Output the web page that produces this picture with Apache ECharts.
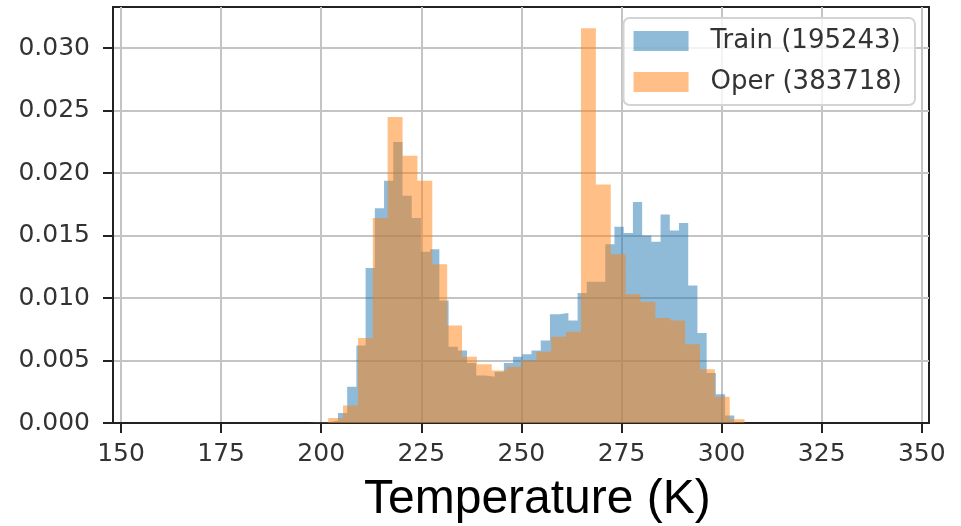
<!DOCTYPE html>
<html>
<head>
<meta charset="utf-8">
<script src="https://cdn.jsdelivr.net/npm/echarts@6/dist/echarts.min.js"></script>
<style>
  html, body { margin: 0; background: #fff; }
  #chart { width: 961px; height: 526px; }
</style>
</head>
<body>
<div id="chart"></div>
<script>
// histogram bins: first edge, bin width, density per bin
const TRAIN_START = 197.28;
const TRAIN_WIDTH = 2.302;
const trainDensity = [
  0.00002, 0.00005, 0.0002, 0.0008, 0.0029, 0.0062, 0.0124, 0.0172, 0.0194, 0.0225,
  0.0182, 0.0164, 0.0137, 0.0139, 0.0098, 0.0061, 0.0058, 0.0048, 0.0038, 0.0037,
  0.0041, 0.0048, 0.0053, 0.0055, 0.0058, 0.0066, 0.0087, 0.0088, 0.0082, 0.0104,
  0.0113, 0.0113, 0.0143, 0.0157, 0.0152, 0.0177, 0.0150, 0.0145, 0.0167, 0.0154,
  0.0160, 0.0110, 0.0072, 0.0040, 0.0023, 0.0006
];

const OPER_START = 198.03;
const OPER_WIDTH = 3.714;
const operDensity = [
  0.00003, 0.0004, 0.0014, 0.0068, 0.0164, 0.0245, 0.0214, 0.0194, 0.0127, 0.0078,
  0.0053, 0.0047, 0.0042, 0.0045, 0.0050, 0.0057, 0.0069, 0.0073, 0.0316, 0.0191,
  0.0135, 0.0103, 0.0097, 0.0084, 0.0082, 0.0063, 0.0043, 0.0021, 0.0003
];

const seriesNames = ['Train (195243)', 'Oper (383718)'];
const xTicks = [150, 175, 200, 225, 250, 275, 300, 325, 350];
const yTicks = [0, 0.005, 0.010, 0.015, 0.020, 0.025, 0.030];

const BLUE = 'rgba(31,119,180,0.5)';
const ORANGE = 'rgba(255,127,14,0.5)';

// step outline: one point per bin edge, last edge drops back to 0
function stepPoints(start, width, vals) {
  const pts = vals.map((v, i) => [start + i * width, v]);
  pts.push([start + vals.length * width, 0]);
  return pts;
}

function histSeries(name, color, pts) {
  return {
    name: name,
    type: 'line',
    step: 'end',
    data: pts,
    showSymbol: false,
    silent: true,
    color: color,
    itemStyle: { color: color },
    lineStyle: { width: 0 },
    areaStyle: { color: color, opacity: 1 }
  };
}

const chart = echarts.init(document.getElementById('chart'));
const labelFont = { fontFamily: 'DejaVu Sans', fontSize: 25, color: '#333' };

chart.setOption({
  animation: false,
  grid: {
    left: 113, right: 32, top: 7, bottom: 103,
    show: true, borderColor: '#222', borderWidth: 2, backgroundColor: '#fff'
  },
  legend: {
    right: 46, top: 18,
    orient: 'vertical',
    icon: 'rect',
    itemWidth: 55, itemHeight: 20, itemGap: 15,
    padding: [10, 13, 10, 10],
    backgroundColor: 'rgba(255,255,255,0.8)',
    borderColor: '#d4d4d4', borderWidth: 2, borderRadius: 6,
    textStyle: {
      fontFamily: 'DejaVu Sans', fontSize: 26, color: '#333',
      lineHeight: 20, padding: [0, 0, 0, 17]
    },
    data: seriesNames
  },
  xAxis: {
    type: 'value', min: 148.0, max: 351.8,
    axisLine: { show: true, lineStyle: { color: '#222', width: 2 } },
    axisTick: { show: true, length: 10, customValues: xTicks, lineStyle: { color: '#222', width: 2 } },
    axisLabel: Object.assign({ margin: 19, customValues: xTicks }, labelFont),
    splitLine: { show: true, lineStyle: { color: '#c4c4c4', width: 2 } }
  },
  yAxis: {
    type: 'value', min: 0, max: 0.0333,
    axisLine: { show: true, lineStyle: { color: '#222', width: 2 } },
    axisTick: { show: true, length: 10, customValues: yTicks, lineStyle: { color: '#222', width: 2 } },
    axisLabel: Object.assign({ margin: 23, customValues: yTicks, formatter: v => v.toFixed(3) }, labelFont),
    splitLine: { show: true, lineStyle: { color: '#c4c4c4', width: 2 } }
  },
  graphic: [{
    type: 'text',
    left: 364, top: 476,
    style: {
      text: 'Temperature (K)',
      font: '48px "Liberation Sans", Arial, sans-serif',
      fill: '#000'
    }
  }],
  series: [
    histSeries(seriesNames[0], BLUE, stepPoints(TRAIN_START, TRAIN_WIDTH, trainDensity)),
    histSeries(seriesNames[1], ORANGE, stepPoints(OPER_START, OPER_WIDTH, operDensity))
  ]
});
</script>
</body>
</html>
